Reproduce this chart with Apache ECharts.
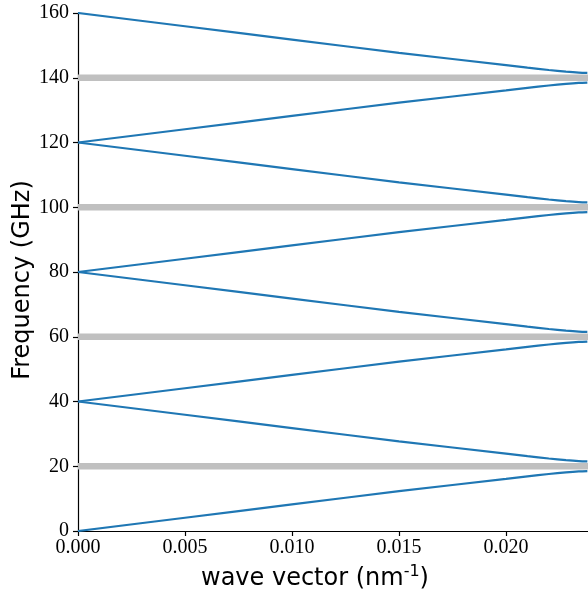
<!DOCTYPE html>
<html>
<head>
<meta charset="utf-8">
<script src="https://cdn.jsdelivr.net/npm/echarts@6/dist/echarts.min.js"></script>
<style>
html,body{margin:0;padding:0;background:#fff;}
#c{width:588px;height:592px;}
</style>
</head>
<body>
<div id="c"></div>
<script>
// wave vector samples (nm^-1)
var waveVector = [0, 0.005, 0.010, 0.015, 0.020, 0.021, 0.022, 0.0228, 0.0234, 0.0238];
// frequency branches (GHz)
var branch1 = [0, 4.1, 8.2, 12.3, 16.1, 16.9, 17.6, 18.1, 18.4, 18.5];
var branch2 = [40, 35.9, 31.8, 27.7, 23.9, 23.1, 22.4, 21.9, 21.6, 21.5];
var branch3 = [40, 44.1, 48.2, 52.3, 56.1, 56.9, 57.6, 58.1, 58.4, 58.5];
var branch4 = [80, 75.9, 71.8, 67.7, 63.9, 63.1, 62.4, 61.9, 61.6, 61.5];
var branch5 = [80, 84.1, 88.2, 92.3, 96.1, 96.9, 97.6, 98.1, 98.4, 98.5];
var branch6 = [120, 115.9, 111.8, 107.7, 103.9, 103.1, 102.4, 101.9, 101.6, 101.5];
var branch7 = [120, 124.1, 128.2, 132.3, 136.1, 136.9, 137.6, 138.1, 138.4, 138.5];
var branch8 = [160, 155.9, 151.8, 147.7, 143.9, 143.1, 142.4, 141.9, 141.6, 141.5];
// band gap centres (GHz)
var gapCenters = [20, 60, 100, 140];
var xMin = 0, xMax = 0.02383, xStep = 0.005;
var yMin = 0, yMax = 160, yStep = 20;

var branches = [branch1, branch2, branch3, branch4, branch5, branch6, branch7, branch8];
var series = [];
gapCenters.forEach(function (g) {
  series.push({
    type: 'line', xAxisIndex: 0, yAxisIndex: 0, silent: true, symbol: 'none',
    data: [[xMin, g], [xMax, g]],
    lineStyle: { color: '#c0c0c0', width: 6.5 }, z: 1
  });
});
branches.forEach(function (b) {
  series.push({
    type: 'line', xAxisIndex: 0, yAxisIndex: 0, silent: true, symbol: 'none',
    smooth: 0.3,
    data: waveVector.map(function (k, i) { return [k, b[i]]; }),
    lineStyle: { color: '#1f77b4', width: 2.2 }, z: 3
  });
});

var serif = 'Liberation Serif';
var chart = echarts.init(document.getElementById('c'), null, { renderer: 'canvas' });
chart.setOption({
  animation: false,
  backgroundColor: '#fff',
  grid: { left: 78, right: 0, top: 13, bottom: 61, containLabel: false },
  xAxis: [{
    type: 'value', min: xMin, max: xMax, interval: xStep,
    axisLine: { show: true, onZero: false, lineStyle: { color: '#000', width: 1.2 } },
    axisTick: { show: true, inside: false, length: 5, lineStyle: { color: '#000', width: 1.2 } },
    axisLabel: { show: true, margin: 7, color: '#000', fontFamily: serif, fontSize: 20,
      showMaxLabel: false, formatter: function (v) { return v.toFixed(3); } },
    splitLine: { show: false }
  }, {
    type: 'value', position: 'top', min: xMin, max: xMax,
    axisLine: { show: true, lineStyle: { color: '#000', width: 1.2 } },
    axisTick: { show: false }, axisLabel: { show: false }, splitLine: { show: false }
  }],
  yAxis: [{
    type: 'value', min: yMin, max: yMax, interval: yStep,
    axisLine: { show: true, onZero: false, lineStyle: { color: '#000', width: 1.2 } },
    axisTick: { show: true, inside: false, length: 5, lineStyle: { color: '#000', width: 1.2 } },
    axisLabel: { show: true, margin: 9, color: '#000', fontFamily: serif, fontSize: 20 },
    splitLine: { show: false }
  }],
  graphic: [{
    type: 'text', x: 0,
    style: {
      x: 315, y: 579, align: 'center', verticalAlign: 'middle',
      text: '{a|wave vector (nm}{s|-1}{a|)}',
      rich: {
        a: { fontFamily: 'DejaVu Sans', fontSize: 24, color: '#000', lineHeight: 30 },
        s: { fontFamily: 'DejaVu Sans', fontSize: 16, color: '#000', lineHeight: 30, verticalAlign: 'top', padding: [0, 0, 10, 0] }
      }
    }
  }, {
    type: 'text', rotation: Math.PI / 2, x: 23, y: 280,
    style: {
      x: 0, y: 0, align: 'center', verticalAlign: 'middle',
      text: 'Frequency (GHz)', fontFamily: 'DejaVu Sans', fontSize: 24, fill: '#000'
    }
  }],
  series: series
});
</script>
</body>
</html>
